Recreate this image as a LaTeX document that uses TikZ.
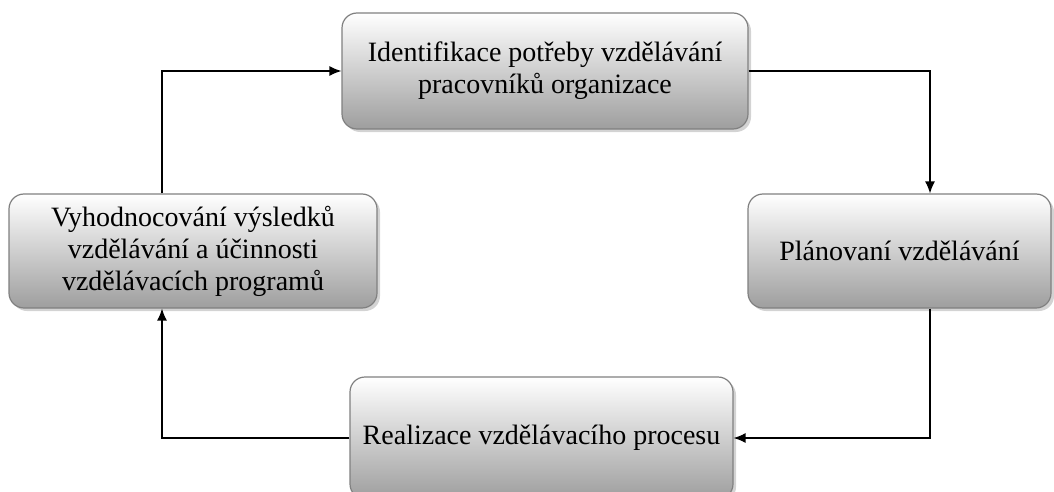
\documentclass[tikz,border=0pt]{standalone}
\usepackage{fontspec}
\setmainfont{Liberation Serif}
\usetikzlibrary{positioning,shadows,arrows.meta}

\begin{document}
\begin{tikzpicture}[
	  x=1pt, y=1pt,
	  %style for arrows
	  arrw/.style={line width=1.3pt, -{Latex[length=12pt,width=10pt]}},
      % style for the shaded boxes
      stage/.style={rectangle, rounded corners=15pt, draw=black!50, line width=1.2pt,
        top color=white, bottom color=black!38, align=center, inner sep=0pt,
        drop shadow={shadow xshift=3pt, shadow yshift=-3pt, opacity=0.35},
        font=\fontsize{28}{32}\selectfont}]

      \useasboundingbox (0,0) rectangle (1054,491);

      %nodes
      \node[stage, minimum width=406pt, minimum height=116pt](ident) at (545,420){Identifikace potřeby vzdělávání\\pracovníků organizace};
      \node[stage, minimum width=303pt, minimum height=114pt](plan) at (899.5,240){Plánovaní vzdělávání};
      \node[stage, minimum width=383pt, minimum height=122pt](real) at (541.5,53){Realizace vzdělávacího procesu};
      \node[stage, minimum width=368pt, minimum height=114pt](vyhod) at (193,240){Vyhodnocování výsledků\\vzdělávání a účinnosti\\vzdělávacích programů};

      %turning columns of the loop
      \coordinate (lx) at (162,0);
      \coordinate (rx) at (930,0);

      %edges
      \draw[arrw](vyhod.north -| lx) |- (ident.west);
      \draw[arrw](ident.east) -| (plan.north -| rx);
      \draw[arrw](plan.south -| rx) |- (real.east);
      \draw[arrw](real.west) -| (vyhod.south -| lx);
\end{tikzpicture}
\end{document}
